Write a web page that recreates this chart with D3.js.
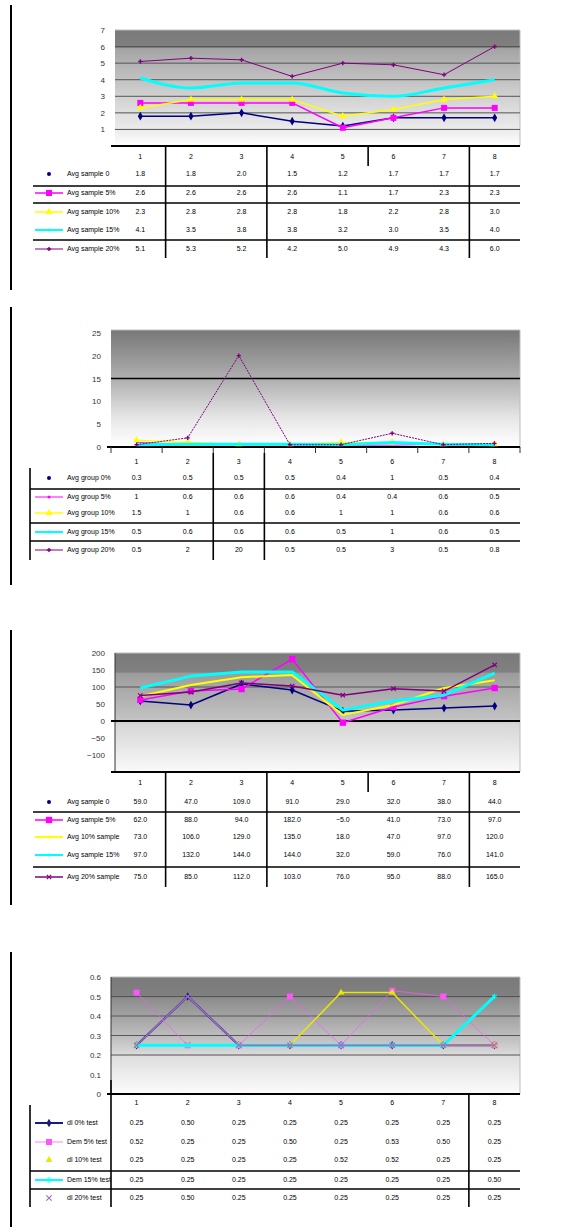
<!DOCTYPE html>
<html><head><meta charset="utf-8">
<script src="https://cdn.jsdelivr.net/npm/d3@7"></script>
<style>body{margin:0;background:#fff}svg{display:block;font-family:"Liberation Sans",Arial,sans-serif}</style>
</head><body><div id="chart"></div>
<script>
// ---------- DATA ----------
const categories = ["1","2","3","4","5","6","7","8"];

const names1 = ["Avg sample 0","Avg sample 5%","Avg sample 10%","Avg sample 15%","Avg sample 20%"];
const p1Navy    = [1.8,1.8,2.0,1.5,1.2,1.7,1.7,1.7];
const p1Magenta = [2.6,2.6,2.6,2.6,1.1,1.7,2.3,2.3];
const p1Yellow  = [2.3,2.8,2.8,2.8,1.8,2.2,2.8,3.0];
const p1Cyan    = [4.1,3.5,3.8,3.8,3.2,3.0,3.5,4.0];
const p1Purple  = [5.1,5.3,5.2,4.2,5.0,4.9,4.3,6.0];
const ticks1 = [1,2,3,4,5,6,7];

const names2 = ["Avg group 0%","Avg group 5%","Avg group 10%","Avg group 15%","Avg group 20%"];
const p2Navy    = [0.3,0.5,0.5,0.5,0.4,1,0.5,0.4];
const p2Magenta = [1,0.6,0.6,0.6,0.4,0.4,0.6,0.5];
const p2Yellow  = [1.5,1,0.6,0.6,1,1,0.6,0.6];
const p2Cyan    = [0.5,0.6,0.6,0.6,0.5,1,0.6,0.5];
const p2Purple  = [0.5,2,20,0.5,0.5,3,0.5,0.8];
const ticks2 = [0,5,10,15,20,25];

const names3 = ["Avg sample 0","Avg sample 5%","Avg 10% sample","Avg sample 15%","Avg 20% sample"];
const p3Navy    = [59,47,109,91,29,32,38,44];
const p3Magenta = [62,88,94,182,-5,41,73,97];
const p3Yellow  = [73,106,129,135,18,47,97,120];
const p3Cyan    = [97,132,144,144,32,59,76,141];
const p3Purple  = [75,85,112,103,76,95,88,165];
const ticks3 = [-100,-50,0,50,100,150,200];

const names4 = ["dl 0% test","Dem 5% test","dl 10% test","Dem 15% test","dl 20% test"];
const p4Navy    = [0.25,0.5,0.25,0.25,0.25,0.25,0.25,0.25];
const p4Magenta = [0.52,0.25,0.25,0.5,0.25,0.53,0.5,0.25];
const p4Yellow  = [0.25,0.25,0.25,0.25,0.52,0.52,0.25,0.25];
const p4Cyan    = [0.25,0.25,0.25,0.25,0.25,0.25,0.25,0.5];
const p4Lilac   = [0.25,0.5,0.25,0.25,0.25,0.25,0.25,0.25];
const ticks4 = [0,0.1,0.2,0.3,0.4,0.5,0.6];

// ---------- STYLES / LAYOUT ----------
const NAVY="#000080", MAG="#ff00ff", YEL="#ffff00", CY="#00ffff", PUR="#800080", LIL="#a070c0";

const panels = [
 {left:115,right:520,top:30,bottom:146,domain:[0,7],ticks:ticks1,grid:[1,2,3,4,5,6],gridColor:"#555",gridW:1,
  stops:[[0,"#7a7a7a"],[0.155,"#808080"],[0.16,"#a4a4a4"],[0.55,"#cfcfcf"],[0.88,"#eeeeee"],[1,"#ffffff"]],
  axisAt:[0], yAxisLine:false,
  headerY:157,rowY:[174,193,212,230,249],hlines:[186,203,240],hx0:33,
  vlines:[[0,146,258],[2,146,258],[4,146,166],[6,146,258]],extraV:[],fmt:d3.format(".1f"),
  names:names1, data:[p1Navy,p1Magenta,p1Yellow,p1Cyan,p1Purple],
  styles:[{c:NAVY,w:1.5,m:d3.symbolDiamond,s:22,key:"dot"},
          {c:MAG,w:1.5,m:d3.symbolSquare,s:36,key:"both"},
          {c:YEL,w:1.5,m:d3.symbolTriangle,s:22,key:"both"},
          {c:CY,w:3,m:null,s:0,key:"both",curve:d3.curveMonotoneX},
          {c:PUR,w:1,m:d3.symbolCross,s:10,key:"both"}],
  outer:[5,290]},
 {left:111,right:520,top:330,bottom:447,domain:[0,25.6],ticks:ticks2,grid:[15],gridColor:"#000",gridW:1.5,
  stops:[[0,"#777777"],[0.45,"#b4b4b4"],[0.75,"#e6e6e6"],[0.9,"#f6f6f6"],[1,"#ffffff"]],
  axisAt:[0], yAxisLine:false, xTicks:true,
  headerY:462,rowY:[478,497,513,532,550],hlines:[489,523,541],hx0:30,
  vlines:[[1,453,560],[2,453,560]],extraV:[[30,468,560]],fmt:d3.format("~g"),
  names:names2, data:[p2Navy,p2Magenta,p2Yellow,p2Cyan,p2Purple],
  styles:[{c:NAVY,w:1,m:null,s:0,key:"dot"},
          {c:MAG,w:1,m:null,s:0,key:"both"},
          {c:YEL,w:1.5,m:d3.symbolTriangle,s:22,key:"both"},
          {c:CY,w:3,m:null,s:0,key:"both"},
          {c:PUR,w:1,m:d3.symbolCross,s:10,key:"both",dash:"2,1"}],
  outer:[307,585]},
 {left:115,right:520,top:653,bottom:772,domain:[-150,200],ticks:ticks3,grid:[100],gridColor:"#555",gridW:1,
  stops:[[0,"#7a7a7a"],[0.16,"#808080"],[0.17,"#9c9c9c"],[0.55,"#c2c2c2"],[0.6,"#d6d6d6"],[1,"#fafafa"]],
  axisAt:[0,-150], yAxisLine:true,
  headerY:783,rowY:[802,820,837,855,877],hlines:[812,867],hx0:33,
  vlines:[[0,772,887],[2,772,887],[4,772,792],[6,772,887]],extraV:[],fmt:d3.format(".1f"),
  names:names3, data:[p3Navy,p3Magenta,p3Yellow,p3Cyan,p3Purple],
  styles:[{c:NAVY,w:1.5,m:d3.symbolDiamond,s:22,key:"dot"},
          {c:MAG,w:1.5,m:d3.symbolSquare,s:40,key:"both"},
          {c:YEL,w:2,m:null,s:0,key:"both"},
          {c:CY,w:3,m:null,s:0,key:"both"},
          {c:PUR,w:1.5,m:d3.symbolTimes,s:14,key:"both"}],
  outer:[630,905]},
 {left:111,right:520,top:977,bottom:1094,domain:[0,0.6],ticks:ticks4,grid:[0.2,0.3,0.4,0.5],gridColor:"#555",gridW:1,
  stops:[[0,"#7a7a7a"],[0.17,"#808080"],[0.18,"#8c8c8c"],[0.55,"#c4c4c4"],[0.68,"#dedede"],[1,"#fcfcfc"]],
  axisAt:[0], yAxisLine:true,
  headerY:1103,rowY:[1123,1142,1160,1180,1198],hlines:[1171,1189],hx0:30,
  vlines:[[6,1093,1207]],extraV:[[111,1080,1207],[30,1105,1207]],fmt:d3.format(".2f"),
  names:names4, data:[p4Navy,p4Magenta,p4Yellow,p4Cyan,p4Lilac],
  styles:[{c:"#1a1a80",w:2,m:d3.symbolDiamond,s:22,key:"both"},
          {c:"#ff55ff",w:1,m:d3.symbolSquare,s:36,key:"both",op:0.75},
          {c:"#e8e800",w:1.5,m:d3.symbolTriangle,s:20,key:"marker"},
          {c:CY,w:3,m:d3.symbolAsterisk,s:20,key:"both"},
          {c:LIL,w:1.5,m:d3.symbolTimes,s:20,key:"marker"}],
  outer:[952,1227]}
];

// ---------- DRAW ----------
const svg = d3.select("#chart").append("svg").attr("width",587).attr("height",1227);
const defs = svg.append("defs");

panels.forEach((p,pi)=>{
  const g = svg.append("g");
  const x = d3.scaleBand().domain(categories).range([p.left,p.right]);
  const y = d3.scaleLinear().domain(p.domain).range([p.bottom,p.top]);
  const cx = c => x(c)+x.bandwidth()/2;

  // outer left rule
  g.append("line").attr("x1",11).attr("x2",11).attr("y1",p.outer[0]).attr("y2",p.outer[1])
    .attr("stroke","#000").attr("stroke-width",2);

  // gradient background
  const gid="grad"+pi;
  const lg = defs.append("linearGradient").attr("id",gid).attr("x1",0).attr("y1",0).attr("x2",0).attr("y2",1);
  p.stops.forEach(s=>lg.append("stop").attr("offset",s[0]).attr("stop-color",s[1]));
  g.append("rect").attr("x",p.left).attr("y",p.top).attr("width",p.right-p.left).attr("height",p.bottom-p.top)
    .attr("fill",`url(#${gid})`);
  // top/right border
  g.append("path").attr("d",`M${p.left},${p.top}H${p.right}V${p.bottom}`).attr("fill","none").attr("stroke","#bdbdbd").attr("stroke-width",1);

  // gridlines
  g.selectAll(".grid").data(p.grid).join("line")
    .attr("x1",p.left).attr("x2",p.right).attr("y1",d=>y(d)).attr("y2",d=>y(d))
    .attr("stroke",p.gridColor).attr("stroke-width",p.gridW);

  // y axis labels
  const ya = d3.axisLeft(y).tickValues(p.ticks).tickSize(0).tickPadding(0).tickFormat(d3.format("~g"));
  const yg = g.append("g").attr("transform",`translate(${p.left-10},0)`).call(ya);
  yg.select(".domain").remove();
  yg.selectAll("text").attr("font-size",8).attr("fill","#333").attr("font-family","Liberation Sans, Arial, sans-serif");

  if(p.yAxisLine){
    g.append("line").attr("x1",p.left).attr("x2",p.left).attr("y1",p.top).attr("y2",p.bottom).attr("stroke","#333").attr("stroke-width",1);
  }

  // axis lines
  p.axisAt.forEach(v=>{
    g.append("line").attr("x1",p.left-4).attr("x2",p.right).attr("y1",y(v)).attr("y2",y(v))
      .attr("stroke","#000").attr("stroke-width",2);
  });

  if(p.xTicks){
    const xa = d3.axisBottom(x).tickSize(0).tickFormat("");
    const bounds = [p.left, ...categories.map(c=>x(c)+x.bandwidth())];
    g.selectAll(".xt").data(bounds).join("line").attr("x1",d=>d).attr("x2",d=>d)
      .attr("y1",p.bottom).attr("y2",p.bottom+6).attr("stroke","#333").attr("stroke-width",1);
  }

  // series
  p.data.forEach((vals,si)=>{
    const st = p.styles[si];
    const line = d3.line().x((d,i)=>cx(categories[i])).y(d=>y(d)).curve(st.curve||d3.curveLinear);
    g.append("path").datum(vals).attr("d",line).attr("fill","none").attr("stroke",st.c)
      .attr("stroke-width",st.w).attr("stroke-opacity",st.op||1).attr("stroke-dasharray",st.dash||null)
      .attr("stroke-linejoin","round");
    if(st.m){
      const sym = d3.symbol().type(st.m).size(st.s);
      const stroked = (st.m===d3.symbolTimes||st.m===d3.symbolAsterisk||st.m===d3.symbolCross&&false);
      g.selectAll(null).data(vals).join("path")
        .attr("transform",(d,i)=>`translate(${cx(categories[i])},${y(d)})`)
        .attr("d",sym())
        .attr("fill",stroked?"none":st.c).attr("stroke",stroked?st.c:"none").attr("stroke-width",1.2);
    }
  });

  // ----- data table -----
  const tf = "Liberation Sans, Arial, sans-serif";
  g.selectAll(".hdr").data(categories).join("text")
    .attr("x",d=>cx(d)).attr("y",p.headerY).attr("text-anchor","middle").attr("dominant-baseline","middle")
    .attr("font-size",7).attr("font-family",tf).attr("fill","#000").text(d=>d);

  p.data.forEach((vals,si)=>{
    const ry = p.rowY[si], st=p.styles[si];
    g.selectAll(null).data(vals).join("text")
      .attr("x",(d,i)=>cx(categories[i])).attr("y",ry).attr("text-anchor","middle").attr("dominant-baseline","middle")
      .attr("font-size",7).attr("font-family",tf).attr("fill","#000").text(d=>p.fmt(d));
    // legend key
    const kx0=35,kx1=63,kc=49;
    if(st.key==="both"){
      g.append("line").attr("x1",kx0).attr("x2",kx1).attr("y1",ry).attr("y2",ry)
        .attr("stroke",st.c).attr("stroke-width",Math.min(st.w,2)).attr("stroke-opacity",st.op||1);
    }
    if(st.key==="dot"){
      g.append("circle").attr("cx",kc).attr("cy",ry).attr("r",2).attr("fill",st.c);
    } else if(st.m){
      const stroked = (st.m===d3.symbolTimes||st.m===d3.symbolAsterisk);
      g.append("path").attr("transform",`translate(${kc},${ry})`).attr("d",d3.symbol().type(st.m).size(st.s)())
        .attr("fill",stroked?"none":st.c).attr("stroke",stroked?st.c:"none").attr("stroke-width",1.2);
    } else if(st.key==="both"){
      g.append("circle").attr("cx",kc).attr("cy",ry).attr("r",1.5).attr("fill",st.c);
    }
    g.append("text").attr("x",67).attr("y",ry).attr("dominant-baseline","middle")
      .attr("font-size",7).attr("font-family",tf).attr("fill","#000").text(p.names[si]);
  });

  // table rules
  g.selectAll(".hl").data(p.hlines).join("line")
    .attr("x1",p.hx0).attr("x2",p.right).attr("y1",d=>d).attr("y2",d=>d).attr("stroke","#000").attr("stroke-width",1.6);
  g.selectAll(".vl").data(p.vlines).join("line")
    .attr("x1",d=>x(categories[d[0]])+x.bandwidth()).attr("x2",d=>x(categories[d[0]])+x.bandwidth())
    .attr("y1",d=>d[1]).attr("y2",d=>d[2]).attr("stroke","#000").attr("stroke-width",1.6);
  g.selectAll(".ev").data(p.extraV).join("line")
    .attr("x1",d=>d[0]).attr("x2",d=>d[0]).attr("y1",d=>d[1]).attr("y2",d=>d[2]).attr("stroke","#000").attr("stroke-width",1.6);
});
</script>
</body></html>
